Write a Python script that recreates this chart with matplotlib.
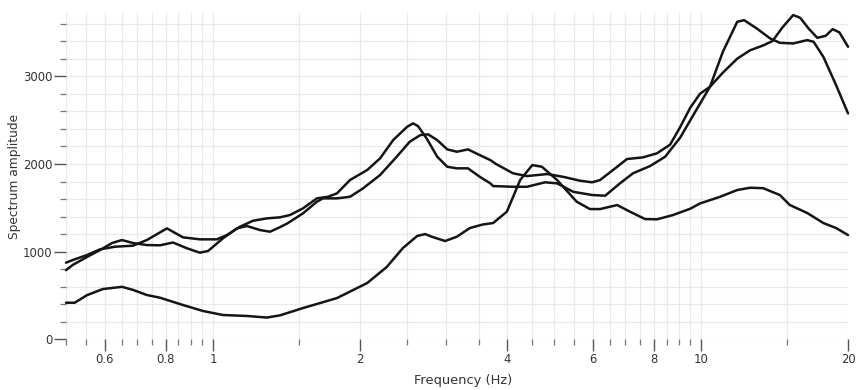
import matplotlib
matplotlib.use("Agg")
import matplotlib.pyplot as plt
from matplotlib.ticker import FixedLocator, NullFormatter, FixedFormatter

# Spectrum curves: frequency (Hz) and amplitude for each record
freq_a = [0.50, 0.516, 0.552, 0.587, 0.621, 0.651, 0.686, 0.732, 0.779, 0.828,
          0.885, 0.940, 0.977, 1.048, 1.12, 1.174, 1.248, 1.309, 1.372, 1.418,
          1.529, 1.633, 1.68, 1.795, 1.909, 2.03, 2.2, 2.38, 2.53, 2.66,
          2.76, 2.88, 3.02, 3.16, 3.33, 3.52, 3.70, 3.80, 4.12, 4.40,
          4.84, 5.21, 5.65, 5.98, 6.21, 6.60, 7.05, 7.60, 8.12, 8.64,
          9.06, 9.50, 9.95, 10.43, 11.08, 11.86, 12.60, 13.4, 14.0, 14.7,
          15.44, 15.96, 16.6, 17.3, 18.0, 18.6, 19.2, 20.0]
amp_a = [790, 849, 940, 1019, 1099, 1133, 1099, 1076, 1073, 1105,
         1039, 989, 1008, 1152, 1266, 1293, 1247, 1228, 1280, 1320,
         1437, 1570, 1608, 1608, 1626, 1722, 1874, 2083, 2253, 2329,
         2337, 2272, 2166, 2139, 2166, 2101, 2044, 2000, 1893, 1862,
         1885, 1854, 1809, 1791, 1817, 1931, 2056, 2075, 2121, 2220,
         2420, 2640, 2800, 2880, 3040, 3200, 3295, 3350, 3400, 3560,
         3696, 3665, 3544, 3437, 3460, 3536, 3499, 3335]

freq_b = [0.50, 0.516, 0.552, 0.587, 0.630, 0.686, 0.732, 0.805, 0.868, 0.940,
          1.019, 1.068, 1.136, 1.208, 1.29, 1.372, 1.438, 1.529, 1.633, 1.72,
          1.795, 1.909, 2.07, 2.2, 2.34, 2.50, 2.57, 2.63, 2.74, 2.88,
          3.02, 3.16, 3.33, 3.52, 3.70, 3.75, 4.12, 4.40, 4.79, 5.07,
          5.47, 5.98, 6.36, 6.82, 7.25, 7.86, 8.44, 9.06, 9.64, 10.43,
          11.08, 11.86, 12.25, 13.0, 13.85, 14.5, 15.44, 16.5, 17.0, 17.8,
          18.9, 20.0]
amp_b = [875, 905, 962, 1027, 1057, 1069, 1133, 1266, 1164, 1141,
         1141, 1190, 1285, 1353, 1380, 1392, 1418, 1494, 1608, 1626,
         1665, 1817, 1931, 2064, 2272, 2424, 2462, 2432, 2291, 2083,
         1968, 1950, 1950, 1854, 1779, 1748, 1740, 1740, 1791, 1779,
         1683, 1646, 1638, 1779, 1893, 1976, 2082, 2300, 2557, 2880,
         3277, 3620, 3638, 3544, 3430, 3380, 3373, 3411, 3392, 3221,
         2899, 2576]

freq_c = [0.50, 0.521, 0.552, 0.595, 0.651, 0.686, 0.732, 0.779, 0.868, 0.954,
          1.048, 1.174, 1.29, 1.372, 1.529, 1.795, 2.07, 2.27, 2.45, 2.62,
          2.72, 2.82, 2.99, 3.16, 3.36, 3.57, 3.75, 4.0, 4.26, 4.51,
          4.72, 5.07, 5.56, 5.92, 6.21, 6.73, 7.15, 7.68, 8.12, 8.76,
          9.50, 9.95, 10.94, 11.86, 12.60, 13.4, 14.5, 15.2, 16.5, 17.8,
          18.9, 20.0]
amp_c = [419, 419, 505, 575, 600, 565, 507, 476, 393, 325,
         279, 268, 250, 275, 358, 472, 643, 826, 1042, 1179,
         1201, 1167, 1122, 1171, 1270, 1310, 1327, 1456, 1817, 1987,
         1968, 1817, 1570, 1486, 1486, 1532, 1456, 1372, 1369, 1418,
         1490, 1550, 1626, 1703, 1729, 1724, 1646, 1532, 1441, 1327,
         1270, 1190]

# Axis ticks
x_major = [0.6, 0.8, 1, 2, 4, 6, 8, 10, 20]
x_major_labels = ["0.6", "0.8", "1", "2", "4", "6", "8", "10", "20"]
x_minor = [0.5, 0.55, 0.65, 0.7, 0.75, 0.85, 0.9, 0.95, 1.5, 2.5, 3, 3.5,
           4.5, 5, 5.5, 6.5, 7, 7.5, 8.5, 9, 9.5, 15]
y_major = [0, 1000, 2000, 3000]
y_minor = [200, 400, 600, 800, 1200, 1400, 1600, 1800, 2200, 2400, 2600,
           2800, 3200, 3400, 3600]

plt.rcParams["font.family"] = ["DejaVu Sans"]

fig = plt.figure(figsize=(8.56, 3.90), dpi=100)
ax = fig.add_axes([0.0771, 0.1295, 0.9136, 0.8372])

for f, a in ((freq_a, amp_a), (freq_b, amp_b), (freq_c, amp_c)):
    ax.plot(f, a, color="#151515", lw=1.8, solid_joinstyle="round",
            solid_capstyle="round", clip_on=False, zorder=3)

ax.set_xscale("log")
ax.set_xlim(0.5, 20)
ax.set_ylim(0, 3720)

ax.xaxis.set_major_locator(FixedLocator(x_major))
ax.xaxis.set_major_formatter(FixedFormatter(x_major_labels))
ax.xaxis.set_minor_locator(FixedLocator(x_minor))
ax.xaxis.set_minor_formatter(NullFormatter())
ax.yaxis.set_major_locator(FixedLocator(y_major))
ax.yaxis.set_minor_locator(FixedLocator(y_minor))
ax.yaxis.set_minor_formatter(NullFormatter())

for s in ax.spines.values():
    s.set_visible(False)

ax.grid(True, which="both", color="#e9e9e9", lw=0.9, zorder=0)
ax.set_axisbelow(True)

ax.tick_params(which="major", length=8.5, width=1.0, color="#555555",
               labelsize=8.4, labelcolor="#333333", pad=1.2)
ax.tick_params(which="minor", length=4.5, width=0.9, color="#777777")

ax.set_xlabel("Frequency (Hz)", fontsize=9.4, color="#333333")
ax.xaxis.set_label_coords(0.5075, -0.106)
ax.set_ylabel("Spectrum amplitude", fontsize=8.8, color="#333333")
ax.yaxis.set_label_coords(-0.0575, 0.5)

fig.savefig("out.png", dpi=100, facecolor="white")
